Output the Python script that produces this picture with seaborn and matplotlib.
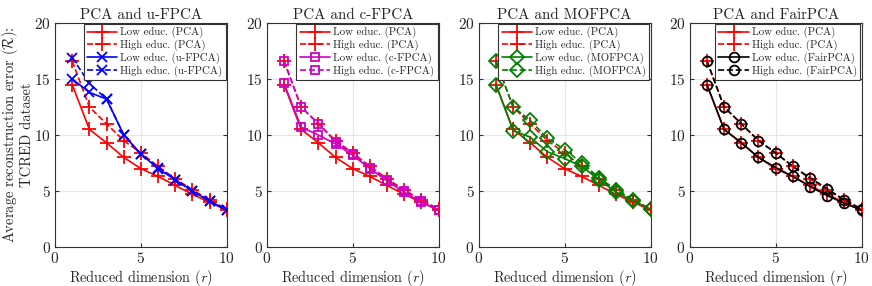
import numpy as np
import pandas as pd
import matplotlib
matplotlib.use("Agg")
import matplotlib.pyplot as plt
import seaborn as sns

# reduced dimension r
r = list(range(1, 11))

# PCA baseline (shared by all panels)
pca_low = [14.5, 10.5, 9.3, 8.0, 7.0, 6.3, 5.5, 4.7, 4.0, 3.3]
pca_high = [16.6, 12.5, 11.0, 9.5, 8.4, 7.2, 6.1, 5.1, 4.2, 3.4]

ufpca_low = [15.0, 13.8, 13.2, 10.0, 8.3, 7.0, 6.0, 5.0, 4.1, 3.3]
ufpca_high = [16.9, 14.6, 13.2, 10.0, 8.3, 7.1, 6.0, 5.0, 4.1, 3.3]

cfpca_low = [14.6, 10.7, 10.0, 9.2, 8.2, 7.0, 5.9, 4.9, 4.0, 3.3]
cfpca_high = [16.6, 12.5, 11.0, 9.4, 8.3, 7.1, 6.0, 5.0, 4.1, 3.3]

mofpca_low = [14.5, 10.4, 9.8, 8.5, 7.9, 7.2, 6.0, 4.9, 4.1, 3.4]
mofpca_high = [16.6, 12.5, 11.3, 9.7, 8.7, 7.5, 6.2, 5.1, 4.2, 3.4]

fairpca_low = [14.5, 10.5, 9.3, 8.0, 7.1, 6.3, 5.4, 4.6, 3.9, 3.3]
fairpca_high = [16.6, 12.5, 11.0, 9.5, 8.4, 7.2, 6.2, 5.2, 4.2, 3.4]

methods = ["u-FPCA", "c-FPCA", "MOFPCA", "FairPCA"]
method_low = [ufpca_low, cfpca_low, mofpca_low, fairpca_low]
method_high = [ufpca_high, cfpca_high, mofpca_high, fairpca_high]
method_colors = ["#0000ff", "#cc00cc", "#008000", "#000000"]
method_markers = ["x", "s", "D", "o"]
method_msize = [7, 6, 7, 7]

sns.set_style("ticks")
plt.rcParams["font.family"] = ["cmr10", "DejaVu Serif"]
plt.rcParams["mathtext.fontset"] = "cm"
plt.rcParams["axes.unicode_minus"] = False
plt.rcParams["axes.formatter.use_mathtext"] = True

fig = plt.figure(figsize=(8.72, 2.86), dpi=100)
lefts = [0.0631, 0.306, 0.549, 0.791]
axes = [fig.add_axes([l, 0.136, 0.197, 0.784]) for l in lefts]


def draw(ax, y, color, marker, ls, label, ms, zorder):
    sns.lineplot(x=r, y=y, ax=ax, color=color, marker=marker, linestyle=ls,
                 linewidth=1.2, markersize=ms, markerfacecolor="none",
                 markeredgecolor=color, markeredgewidth=1.3, label=label,
                 zorder=zorder)


for i, ax in enumerate(axes):
    m = methods[i]
    draw(ax, pca_low, "#ff0000", "+", "-", "Low educ. (PCA)", 10, 3)
    draw(ax, pca_high, "#ff0000", "+", "--", "High educ. (PCA)", 10, 3)
    draw(ax, method_low[i], method_colors[i], method_markers[i], "-",
         f"Low educ. ({m})", method_msize[i], 4)
    draw(ax, method_high[i], method_colors[i], method_markers[i], "--",
         f"High educ. ({m})", method_msize[i], 4)

    ax.set_xlim(0, 10)
    ax.set_ylim(0, 20)
    ax.set_xticks([0, 5, 10])
    ax.set_yticks([0, 5, 10, 15, 20])
    ax.grid(True, color="#e6e6e6", linewidth=0.8)
    ax.set_axisbelow(True)
    ax.tick_params(direction="in", length=3, labelsize=11, color="#333333",
                   top=True, right=True, pad=3)
    for s in ax.spines.values():
        s.set_visible(True)
        s.set_color("#333333")
        s.set_linewidth(0.8)
    ax.set_title(f"PCA and {m}", fontsize=10.8, pad=3)
    ax.set_xlabel("Reduced dimension ($r$)", fontsize=10.3, labelpad=1)
    ax.set_ylabel("")
    leg = ax.legend(loc="upper right", fontsize=7.8, handlelength=2.8,
                    borderaxespad=0.1, borderpad=0.3, labelspacing=0.15,
                    handletextpad=0.3, fancybox=False, framealpha=1,
                    edgecolor="#333333")
    leg.get_frame().set_linewidth(0.8)

axes[0].set_ylabel("Average reconstruction error ($\\bar{\\mathcal{R}}$):\nTCRED dataset",
                   fontsize=10.5, linespacing=0.9)
axes[0].yaxis.set_label_coords(-0.125, 0.5)

fig.savefig("out.png", dpi=100)
